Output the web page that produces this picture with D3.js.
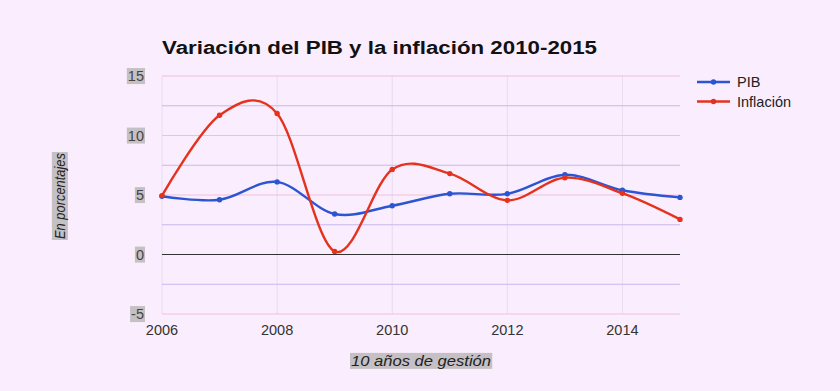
<!DOCTYPE html>
<html><head><meta charset="utf-8">
<script src="https://cdn.jsdelivr.net/npm/d3@7"></script>
<style>
html,body{margin:0;padding:0;background:#faedfd;}
svg{display:block;font-family:"Liberation Sans",Arial,sans-serif;}
</style></head>
<body>
<svg id="c" width="840" height="391"></svg>
<script>
const years = [2006,2007,2008,2009,2010,2011,2012,2013,2014,2015];
const pib = [4.9,4.6,6.1,3.4,4.1,5.1,5.1,6.7,5.4,4.8];
const inflacion = [4.95,11.7,11.85,0.26,7.15,6.8,4.55,6.45,5.15,2.95];
const yTicks = [-5,0,5,10,15];
const yMinor = [-2.5,2.5,7.5,12.5];
const xTicks = [2006,2008,2010,2012,2014];
const seriesNames = ["PIB","Inflación"];
const seriesColors = ["#2b55d3","#e5321c"];

const svg = d3.select("#c");
const W=840,H=391;
svg.append("rect").attr("width",W).attr("height",H).attr("fill","#faedfd");

const x = d3.scaleLinear().domain([2006,2015]).range([162,680]);
const y = d3.scaleLinear().domain([-5,15]).range([314,76]);

// vertical gridlines
svg.append("g").selectAll("line").data(xTicks).join("line")
  .attr("x1",d=>x(d)).attr("x2",d=>x(d)).attr("y1",y(15)).attr("y2",y(-5))
  .attr("stroke","#e8dcf2").attr("stroke-width",1);
// minor horizontal
svg.append("g").selectAll("line").data(yMinor).join("line")
  .attr("x1",x(2006)).attr("x2",x(2015)).attr("y1",d=>y(d)).attr("y2",d=>y(d))
  .attr("stroke","#c6b8f0").attr("stroke-width",1);
// major horizontal
svg.append("g").selectAll("line").data(yTicks.filter(d=>d!==0)).join("line")
  .attr("x1",x(2006)).attr("x2",x(2015)).attr("y1",d=>y(d)).attr("y2",d=>y(d))
  .attr("stroke","#efbfdc").attr("stroke-width",1);
// zero line
svg.append("line").attr("x1",x(2006)).attr("x2",x(2015)).attr("y1",y(0)).attr("y2",y(0))
  .attr("stroke","#333").attr("stroke-width",1.2);

// y tick labels with grey boxes
const yl = svg.append("g");
yTicks.forEach(t=>{
  const tx = yl.append("text").attr("x",144).attr("y",y(t)).attr("dy","0.35em")
    .attr("text-anchor","end").attr("font-size",14.5).attr("fill","#444").text(t);
  const bb = tx.node().getBBox();
  yl.insert("rect","text").attr("x",bb.x-1).attr("y",bb.y).attr("width",bb.width+2).attr("height",bb.height)
    .attr("fill","#c4c0c4");
});
// x tick labels
svg.append("g").selectAll("text").data(xTicks).join("text")
  .attr("x",d=>x(d)).attr("y",335).attr("text-anchor","middle")
  .attr("font-size",14.5).attr("fill","#333").text(d=>d);

// lines
const line = d3.line().curve(d3.curveCardinal.tension(0));
[pib,inflacion].forEach((vals,i)=>{
  const pts = years.map((yr,j)=>[x(yr),y(vals[j])]);
  svg.append("path").attr("d",line(pts)).attr("fill","none")
    .attr("stroke",seriesColors[i]).attr("stroke-width",2.4);
  svg.append("g").selectAll("circle").data(pts).join("circle")
    .attr("cx",d=>d[0]).attr("cy",d=>d[1]).attr("r",2.7).attr("fill",seriesColors[i]);
});

// title
svg.append("text").attr("x",162).attr("y",54).attr("font-size",18).attr("font-weight","bold")
  .attr("textLength",435).attr("lengthAdjust","spacingAndGlyphs")
  .attr("fill","#111").text("Variación del PIB y la inflación 2010-2015");

// legend
seriesNames.forEach((n,i)=>{
  const ly = 82 + i*19.5;
  svg.append("line").attr("x1",697).attr("x2",730).attr("y1",ly).attr("y2",ly)
    .attr("stroke",seriesColors[i]).attr("stroke-width",2.4);
  svg.append("circle").attr("cx",713.5).attr("cy",ly).attr("r",2.7).attr("fill",seriesColors[i]);
  svg.append("text").attr("x",737).attr("y",ly).attr("dy","0.35em").attr("font-size",14.5)
    .attr("fill","#222").text(n);
});

// axis titles with grey boxes
function boxed(g, txt, len){
  const t = g.append("text").attr("text-anchor","middle").attr("dy","0.35em")
    .attr("font-size",14).attr("font-style","italic").attr("fill","#222")
    .attr("textLength",len).attr("lengthAdjust","spacingAndGlyphs").text(txt);
  const bb = t.node().getBBox();
  g.insert("rect","text").attr("x",bb.x-1).attr("y",bb.y).attr("width",bb.width+2).attr("height",bb.height)
    .attr("fill","#c4c0c4");
}
boxed(svg.append("g").attr("transform","translate(421,361)"), "10 años de gestión", 140);
boxed(svg.append("g").attr("transform","translate(60,196) rotate(-90)"), "En porcentajes", 86);
</script>
</body></html>
